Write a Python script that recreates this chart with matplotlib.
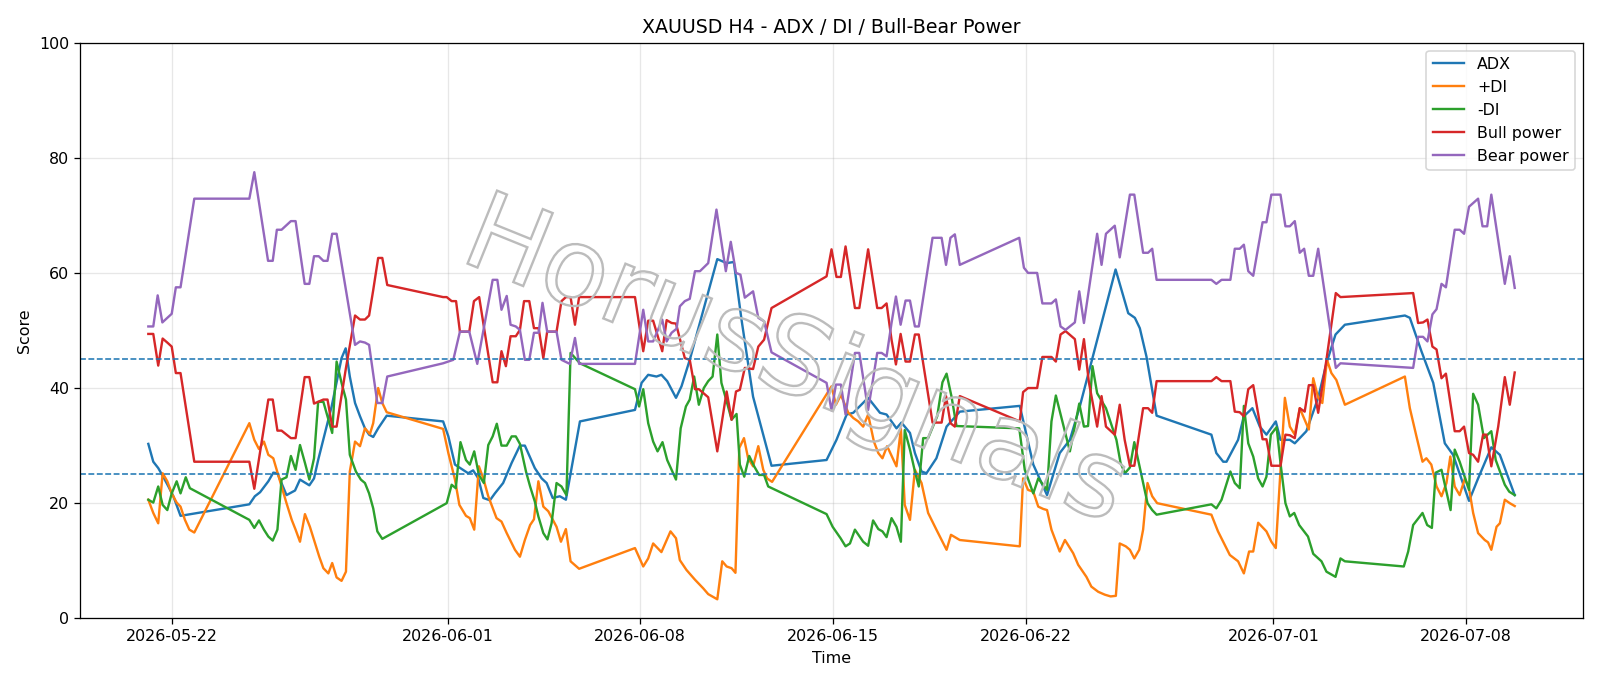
import matplotlib
matplotlib.use('Agg')
import matplotlib.pyplot as plt
import matplotlib.patheffects as pe
import pandas as pd

# time = days after 2026-05-22 00:00 (H4 bars, weekend gaps drawn as straight lines)
adx_t = [-0.87, -0.69, -0.51, -0.33, -0.14, 0.04, 0.30, 2.80, 3.00, 3.19, 3.49, 3.67, 3.82, 4.15, 4.46, 4.64,
         4.98, 5.15, 5.30, 5.79, 6.15, 6.30, 6.45, 6.64, 6.82, 7.00, 7.15, 7.30, 7.48, 7.79, 9.84, 10.03,
         10.27, 10.75, 10.93, 11.12, 11.30, 11.54, 11.72, 12.02, 12.33, 12.63, 12.81, 13.17, 13.42, 13.60,
         13.82, 14.08, 14.30, 14.81, 16.81, 17.05, 17.29, 17.59, 17.77, 17.98, 18.30, 18.50, 18.80, 19.80,
         20.14, 20.40, 20.68, 21.10, 21.77, 23.77, 24.13, 24.50, 24.74, 25.28, 25.71, 25.95, 26.31, 26.49,
         26.80, 26.98, 27.22, 27.40, 27.76, 28.13, 28.61, 30.79, 31.28, 31.78, 32.24, 32.61, 32.97, 34.27,
         34.73, 34.97, 35.15, 35.39, 35.76, 37.75, 37.93, 38.18, 38.30, 38.72, 38.93, 39.24, 39.51, 39.75,
         40.09, 40.26, 40.60, 40.78, 41.20, 41.63, 41.93, 42.26, 42.60, 44.78, 44.96, 45.38, 45.81, 46.23,
         46.53, 47.11, 47.44, 47.92, 48.23, 48.77]
adx_v = [30.3, 27.2, 26.1, 24.6, 22.9, 21.2, 17.8, 19.8, 21.2, 21.9, 23.8, 25.3, 25.2, 21.4, 22.2, 24.1,
         23.1, 24.3, 27.5, 36.8, 45.2, 46.9, 42.0, 37.4, 35.1, 33.0, 31.9, 31.5, 33.0, 35.2, 34.2, 31.6,
         26.7, 25.2, 25.7, 24.3, 20.9, 20.5, 21.7, 23.5, 27.0, 30.0, 30.0, 26.1, 24.3, 23.5,
         20.9, 21.2, 20.6, 34.2, 36.2, 40.9, 42.3, 42.0, 42.3, 41.2, 38.3, 40.3, 44.9, 62.4,
         61.7, 61.9, 51.9, 38.5, 26.5, 27.5, 31.0, 35.4, 35.7, 38.3, 35.7, 35.4, 33.0, 34.0,
         32.2, 28.7, 25.5, 25.2, 27.8, 33.3, 35.9, 36.9, 26.7, 21.4, 28.7, 31.0, 36.8, 60.6,
         53.0, 52.2, 50.4, 45.5, 35.2, 31.9, 28.7, 27.2, 27.2, 31.0, 35.1, 36.5, 33.3, 31.9,
         34.2, 31.0, 31.0, 30.4, 32.5, 38.3, 44.3, 49.3, 51.0, 52.6, 52.2, 46.4, 40.9, 30.4,
         28.4, 20.4, 24.3, 29.7, 28.4, 21.4]

pdi_t = [-0.87, -0.69, -0.51, -0.35, -0.18, -0.02, 0.16, 0.30, 0.46, 0.62, 0.80, 2.80, 2.98, 3.15, 3.33, 3.49,
         3.67, 3.97, 4.15, 4.34, 4.48, 4.64, 4.82, 5.00, 5.15, 5.34, 5.49, 5.67, 5.81, 5.97, 6.15, 6.31,
         6.45, 6.64, 6.82, 7.00, 7.18, 7.30, 7.48, 7.63, 7.79, 9.84, 10.03, 10.27, 10.43, 10.67, 10.81, 10.97,
         11.14, 11.30, 11.48, 11.78, 11.96, 12.15, 12.45, 12.63, 12.81, 13.00, 13.14, 13.30, 13.48, 13.66,
         13.96, 14.12, 14.30, 14.47, 14.78, 16.81, 17.11, 17.29, 17.47, 17.77, 18.10, 18.30, 18.44, 18.68,
         18.99, 19.29, 19.47, 19.80, 19.98, 20.14, 20.32, 20.46, 20.60, 20.77, 20.92, 21.10, 21.29, 21.47,
         21.61, 21.79, 23.95, 24.11, 24.29, 24.56, 24.74, 24.92, 25.10, 25.28, 25.49, 25.65, 25.80, 25.97,
         26.31, 26.47, 26.61, 26.80, 26.98, 27.22, 27.46, 27.76, 28.13, 28.29, 28.61, 30.79, 30.91, 31.09,
         31.28, 31.46, 31.64, 31.78, 31.94, 32.24, 32.43, 32.73, 32.91, 33.21, 33.39, 33.64, 33.88, 34.09,
         34.28, 34.42, 34.64, 34.79, 34.95, 35.13, 35.27, 35.43, 35.60, 35.78, 37.75, 37.99, 38.42, 38.72,
         38.93, 39.12, 39.27, 39.45, 39.75, 39.93, 40.09, 40.42, 40.60, 40.78, 40.96, 41.14, 41.29, 41.45,
         41.63, 41.78, 41.95, 42.11, 42.29, 42.60, 44.78, 44.96, 45.20, 45.42, 45.56, 45.74, 45.93, 46.11,
         46.29, 46.43, 46.59, 46.77, 46.96, 47.11, 47.26, 47.44, 47.68, 47.80, 47.92, 48.11, 48.23, 48.41,
         48.59, 48.77]
pdi_v = [20.6, 18.3, 16.5, 25.2, 23.8, 21.7, 20.1, 19.4, 17.1, 15.4, 14.9, 33.9, 31.0, 29.4, 30.7, 28.4,
         27.8, 22.9, 20.0, 17.1, 15.4, 13.3, 18.1, 15.9, 13.6, 10.7, 8.7, 7.8, 9.6, 7.1, 6.5, 8.1,
         25.5, 30.7, 29.9, 33.0, 32.0, 33.9, 40.0, 37.4, 35.8, 32.9, 28.7, 24.1, 19.7, 17.8, 17.4, 15.4,
         26.4, 24.3, 21.2, 17.4, 16.8, 14.8, 11.9, 10.7, 13.6, 16.2, 17.2, 23.8, 19.4, 18.6,
         15.9, 13.3, 15.5, 9.9, 8.6, 12.2, 9.0, 10.4, 13.0, 11.5, 15.1, 13.9, 10.1, 8.4,
         6.7, 5.2, 4.2, 3.3, 9.9, 9.0, 8.7, 7.9, 29.6, 31.3, 27.8, 26.4, 29.9, 25.8,
         24.3, 23.7, 40.3, 37.1, 38.8, 35.7, 34.8, 34.2, 33.3, 35.4, 30.7, 28.7, 27.8, 29.9,
         26.4, 32.9, 19.7, 17.1, 25.8, 23.5, 18.3, 15.4, 11.9, 14.5, 13.6, 12.5, 24.3, 22.3,
         22.0, 19.4, 19.0, 18.8, 15.4, 11.6, 13.6, 11.3, 9.3, 7.2, 5.5, 4.6, 4.1, 3.8,
         3.9, 13.0, 12.5, 11.9, 10.4, 11.9, 15.4, 23.5, 21.2, 20.0, 18.0, 15.1, 11.0, 9.9,
         7.8, 11.6, 11.6, 16.6, 15.1, 13.3, 12.2, 38.3, 33.3, 31.9, 36.5, 34.5, 32.8, 41.7,
         38.3, 37.4, 44.9, 42.6, 41.4, 37.1, 42.0, 36.5, 31.6, 27.2, 27.8, 26.7, 22.9, 21.2,
         23.5, 28.1, 22.9, 21.4, 24.3, 22.6, 18.3, 14.8, 13.6, 13.2, 11.9, 15.9, 16.5, 20.6,
         20.0, 19.5]

mdi_t = [-0.87, -0.69, -0.51, -0.35, -0.18, -0.02, 0.16, 0.30, 0.49, 0.64, 2.80, 2.98, 3.15, 3.33, 3.49, 3.65,
         3.82, 3.97, 4.15, 4.31, 4.48, 4.64, 4.82, 4.98, 5.15, 5.30, 5.49, 5.64, 5.81, 5.97, 6.15, 6.31,
         6.45, 6.67, 6.85, 7.00, 7.15, 7.30, 7.45, 7.63, 9.97, 10.15, 10.30, 10.47, 10.67, 10.81, 10.97, 11.14,
         11.32, 11.48, 11.64, 11.79, 11.96, 12.15, 12.33, 12.48, 12.63, 12.85, 13.00, 13.17, 13.30, 13.48,
         13.63, 13.78, 13.96, 14.14, 14.32, 14.47, 14.81, 16.81, 16.96, 17.11, 17.29, 17.47, 17.63, 17.81,
         17.98, 18.30, 18.47, 18.66, 18.80, 18.96, 19.13, 19.31, 19.47, 19.63, 19.80, 19.95, 20.14, 20.32,
         20.50, 20.62, 20.78, 20.96, 21.14, 21.32, 21.50, 21.65, 23.77, 23.99, 24.28, 24.46, 24.62, 24.80,
         25.10, 25.28, 25.46, 25.65, 25.80, 25.95, 26.13, 26.31, 26.47, 26.61, 26.80, 26.98, 27.12, 27.28,
         27.46, 27.79, 27.98, 28.13, 28.31, 28.49, 30.77, 30.97, 31.28, 31.46, 31.78, 31.94, 32.10, 32.61,
         32.95, 33.12, 33.27, 33.43, 33.60, 33.92, 34.30, 34.45, 34.61, 34.79, 34.95, 35.09, 35.43, 35.60,
         35.76, 37.75, 37.93, 38.12, 38.44, 38.60, 38.78, 38.93, 39.09, 39.27, 39.45, 39.61, 39.75, 39.91,
         40.12, 40.26, 40.44, 40.60, 40.76, 40.94, 41.26, 41.45, 41.75, 41.93, 42.26, 42.44, 42.60, 44.74,
         44.90, 45.08, 45.42, 45.59, 45.76, 45.90, 46.11, 46.44, 46.59, 46.77, 47.11, 47.26, 47.44, 47.65,
         47.92, 48.08, 48.41, 48.57, 48.77]
mdi_v = [20.6, 20.1, 22.9, 19.7, 18.8, 21.7, 23.8, 21.7, 24.5, 22.6, 17.1, 15.7, 17.0, 15.4, 14.2, 13.5,
         15.4, 24.1, 24.5, 28.2, 25.8, 30.1, 27.0, 24.1, 27.8, 37.6, 37.6, 35.1, 32.2, 44.6, 40.9, 38.0,
         28.4, 25.5, 24.1, 23.5, 21.7, 19.1, 15.1, 13.8, 20.0, 23.2, 22.6, 30.6, 27.5, 26.7, 29.0, 24.9,
         23.5, 30.1, 31.6, 33.8, 30.0, 30.0, 31.6, 31.6, 30.3, 25.5, 22.9, 20.3, 17.7, 14.8,
         13.7, 16.5, 23.5, 22.9, 21.4, 46.1, 44.3, 39.8, 36.8, 39.8, 33.9, 30.7, 29.0, 30.6,
         27.5, 24.1, 33.0, 36.8, 38.0, 42.0, 37.1, 40.0, 41.2, 42.0, 49.3, 40.9, 37.7, 34.5,
         35.5, 26.7, 24.6, 28.2, 26.4, 24.9, 24.9, 22.9, 18.1, 15.9, 13.9, 12.5, 13.0, 15.4,
         13.3, 12.6, 17.0, 15.5, 15.1, 14.1, 17.4, 15.9, 13.3, 32.7, 29.3, 25.5, 22.9, 31.3,
         31.3, 35.1, 41.0, 42.5, 38.5, 33.4, 33.0, 25.8, 21.7, 24.3, 22.3, 34.2, 38.7, 29.0,
         37.3, 33.3, 33.4, 43.8, 39.1, 36.5, 31.0, 27.0, 25.2, 26.2, 30.6, 27.5, 20.0, 18.8,
         18.0, 19.8, 19.1, 20.6, 25.5, 23.5, 22.6, 36.9, 30.4, 28.1, 24.3, 22.9, 24.6, 31.9,
         33.2, 27.0, 20.0, 17.7, 18.3, 16.2, 14.2, 11.2, 9.9, 8.1, 7.2, 10.4, 9.9, 9.0,
         11.6, 16.2, 18.3, 16.2, 15.7, 25.3, 25.8, 18.8, 29.3, 27.2, 22.3, 39.0, 37.1, 31.3,
         32.5, 27.5, 23.2, 22.0, 21.4]

bull_t = [-0.87, -0.69, -0.51, -0.35, -0.18, -0.02, 0.13, 0.30, 0.80, 2.80, 2.98, 3.49, 3.65, 3.82, 3.97, 4.31,
          4.48, 4.81, 4.98, 5.15, 5.49, 5.64, 5.81, 5.97, 6.31, 6.64, 6.82, 7.00, 7.15, 7.30, 7.48, 7.63,
          7.81, 9.84, 9.97, 10.15, 10.31, 10.45, 10.79, 10.96, 11.15, 11.64, 11.81, 11.96, 12.12, 12.29,
          12.48, 12.63, 12.78, 12.97, 13.14, 13.31, 13.48, 13.62, 13.96, 14.14, 14.30, 14.47, 14.63, 14.78,
          16.81, 17.11, 17.29, 17.47, 17.80, 17.96, 18.14, 18.30, 18.62, 18.80, 18.99, 19.13, 19.47, 19.80,
          20.14, 20.32, 20.48, 20.62, 20.80, 21.10, 21.29, 21.50, 21.77, 23.77, 23.95, 24.13, 24.29, 24.46,
          24.80, 24.96, 25.28, 25.61, 25.77, 25.95, 26.13, 26.29, 26.46, 26.64, 26.80, 26.98, 27.12, 27.28,
          27.62, 27.95, 28.11, 28.27, 28.43, 28.61, 30.79, 30.91, 31.09, 31.42, 31.61, 31.94, 32.10, 32.27,
          32.45, 32.79, 32.95, 33.12, 33.30, 33.60, 33.76, 33.92, 34.24, 34.42, 34.60, 34.79, 34.95, 35.27,
          35.45, 35.60, 35.76, 37.75, 37.93, 38.12, 38.44, 38.60, 38.78, 38.93, 39.09, 39.27, 39.61, 39.75,
          39.93, 40.26, 40.44, 40.60, 40.78, 40.96, 41.14, 41.29, 41.45, 41.63, 41.93, 42.27, 42.44, 45.08,
          45.26, 45.44, 45.60, 45.78, 45.93, 46.11, 46.27, 46.59, 46.77, 46.93, 47.11, 47.26, 47.44, 47.62,
          47.74, 47.92, 48.17, 48.41, 48.59, 48.77]
bull_v = [49.4, 49.4, 43.9, 48.6, 47.9, 47.2, 42.6, 42.6, 27.2, 27.2, 22.5, 38.0, 38.0, 32.6, 32.6, 31.3,
          31.3, 41.9, 41.9, 37.3, 38.0, 38.0, 33.3, 33.3, 43.5, 52.6, 51.9, 51.9, 52.6, 57.0, 62.6, 62.6,
          57.9, 55.8, 55.8, 55.1, 55.1, 49.8, 49.8, 55.1, 55.8, 41.0, 41.0, 46.4, 43.8, 49.0,
          49.0, 50.1, 55.1, 55.1, 50.4, 50.4, 45.2, 49.8, 49.8, 55.1, 55.8, 55.8, 51.0, 55.8,
          55.8, 46.4, 51.7, 51.7, 46.4, 51.8, 51.3, 51.2, 45.2, 44.9, 39.8, 39.8, 38.4, 29.0,
          39.4, 34.5, 39.4, 39.7, 43.5, 43.3, 47.2, 48.4, 53.9, 59.4, 64.1, 59.3, 59.3, 64.6,
          53.9, 53.9, 64.1, 53.9, 53.9, 54.7, 48.4, 44.1, 49.4, 44.6, 44.6, 49.3, 49.3, 44.3,
          34.0, 34.0, 38.6, 33.9, 33.3, 38.6, 34.2, 39.3, 40.0, 40.0, 45.4, 45.4, 44.6, 49.3,
          49.9, 48.5, 43.2, 48.5, 41.0, 33.3, 38.6, 33.3, 31.9, 37.1, 31.0, 26.5, 26.5, 36.5,
          36.5, 35.7, 41.2, 41.2, 41.9, 41.2, 41.2, 35.9, 35.8, 35.1, 39.8, 40.5, 31.1, 31.1,
          26.5, 26.5, 31.9, 31.8, 31.3, 36.5, 35.9, 40.5, 40.5, 35.7, 44.9, 56.5, 55.8, 56.5,
          51.3, 51.4, 51.9, 47.2, 46.7, 41.7, 42.5, 32.5, 32.5, 33.3, 28.7, 28.4, 27.2, 31.9,
          31.9, 26.4, 33.3, 41.9, 37.1, 42.7]

bear_t = [-0.87, -0.69, -0.53, -0.36, -0.02, 0.13, 0.30, 0.80, 2.80, 2.98, 3.48, 3.65, 3.80, 3.97, 4.31, 4.48,
          4.81, 4.98, 5.15, 5.32, 5.49, 5.64, 5.81, 5.97, 6.64, 6.82, 7.00, 7.15, 7.45, 7.63, 7.81, 9.84,
          10.21, 10.45, 10.79, 11.08, 11.64, 11.81, 11.96, 12.15, 12.29, 12.48, 12.63, 12.81, 12.97, 13.14,
          13.31, 13.45, 13.62, 13.96, 14.14, 14.44, 14.63, 14.78, 16.81, 17.11, 17.29, 17.47, 17.80, 17.96,
          18.14, 18.32, 18.44, 18.62, 18.80, 18.99, 19.17, 19.47, 19.77, 20.11, 20.29, 20.48, 20.64, 20.80,
          21.10, 21.29, 21.50, 21.77, 23.77, 23.95, 24.11, 24.29, 24.46, 24.80, 24.96, 25.28, 25.61, 25.77,
          25.95, 26.13, 26.29, 26.46, 26.64, 26.80, 26.98, 27.12, 27.62, 27.95, 28.11, 28.27, 28.43, 28.61,
          30.77, 30.94, 31.09, 31.42, 31.61, 31.94, 32.10, 32.27, 32.45, 32.79, 32.95, 33.12, 33.60, 33.76,
          33.92, 34.24, 34.42, 34.79, 34.95, 35.27, 35.45, 35.60, 35.76, 37.75, 37.93, 38.12, 38.44, 38.60,
          38.78, 38.93, 39.09, 39.27, 39.61, 39.75, 39.93, 40.26, 40.44, 40.60, 40.78, 40.96, 41.12, 41.29,
          41.45, 41.63, 42.27, 42.44, 45.08, 45.26, 45.44, 45.60, 45.78, 45.93, 46.11, 46.27, 46.59, 46.77,
          46.93, 47.11, 47.44, 47.60, 47.77, 47.92, 48.41, 48.59, 48.77]
bear_v = [50.7, 50.7, 56.1, 51.4, 52.9, 57.5, 57.5, 72.9, 72.9, 77.5, 62.1, 62.1, 67.5, 67.5, 69.0, 69.0,
          58.1, 58.1, 62.9, 62.9, 62.1, 62.1, 66.8, 66.8, 47.5, 48.1, 47.9, 47.5, 37.4, 37.4, 42.0, 44.3,
          44.9, 49.8, 49.8, 44.2, 58.8, 58.8, 53.6, 56.0, 51.0, 50.7, 50.1, 44.9, 44.9, 49.6,
          49.6, 54.8, 49.8, 49.8, 44.9, 44.2, 48.7, 44.2, 44.2, 53.6, 48.1, 48.1, 51.9, 48.1,
          49.6, 50.3, 54.2, 55.1, 55.5, 60.3, 60.3, 61.7, 71.0, 60.3, 65.4, 60.0, 59.7, 55.7,
          56.8, 52.2, 51.6, 46.2, 40.9, 36.1, 40.6, 40.6, 35.4, 46.1, 46.1, 36.2, 46.1, 46.1,
          45.5, 51.3, 55.9, 51.0, 55.2, 55.2, 50.7, 50.7, 66.1, 66.1, 61.4, 66.1, 66.7, 61.4,
          66.1, 60.9, 60.0, 60.0, 54.7, 54.7, 55.4, 50.7, 50.1, 51.4, 56.8, 51.3, 66.8, 61.4,
          66.8, 68.2, 62.7, 73.6, 73.6, 63.5, 63.5, 64.2, 58.8, 58.8, 58.1, 58.8, 58.8, 64.2,
          64.2, 64.9, 60.3, 59.5, 68.8, 68.8, 73.6, 73.6, 68.1, 68.1, 69.0, 63.5, 64.2, 59.5,
          59.5, 64.2, 43.5, 44.3, 43.5, 48.9, 48.9, 48.1, 52.8, 53.7, 58.1, 57.5, 67.5, 67.5,
          66.8, 71.5, 72.9, 68.1, 68.1, 73.6, 58.1, 62.9, 57.4]

levels = [25, 45]

base = pd.Timestamp('2026-05-22')
def to_time(days):
    return base + pd.to_timedelta(days, unit='D')

fig, ax = plt.subplots(figsize=(14, 6.0025), dpi=1600 / 14)
fig.subplots_adjust(left=0.05, right=0.9894, top=0.9378, bottom=0.0987)

ax.plot(to_time(adx_t), adx_v, label='ADX')
ax.plot(to_time(pdi_t), pdi_v, label='+DI')
ax.plot(to_time(mdi_t), mdi_v, label='-DI')
ax.plot(to_time(bull_t), bull_v, label='Bull power')
ax.plot(to_time(bear_t), bear_v, label='Bear power')
for lv in levels:
    ax.axhline(lv, linestyle='--', linewidth=1, color='#1f77b4')

ax.set_ylim(0, 100)
ax.set_title('XAUUSD H4 - ADX / DI / Bull-Bear Power')
ax.set_xlabel('Time')
ax.set_ylabel('Score')
ax.grid(True, alpha=0.3)
ax.legend(loc='upper right')

# watermark
fig.text(0.497, 0.47, 'HorusSignals', fontsize=68, rotation=-22, ha='center', va='center',
         path_effects=[pe.PathPatchEffect(edgecolor='#bcbcbc', facecolor='none', linewidth=1.5)],
         alpha=0.8, zorder=0)

plt.savefig('out.png', dpi=1600 / 14)
